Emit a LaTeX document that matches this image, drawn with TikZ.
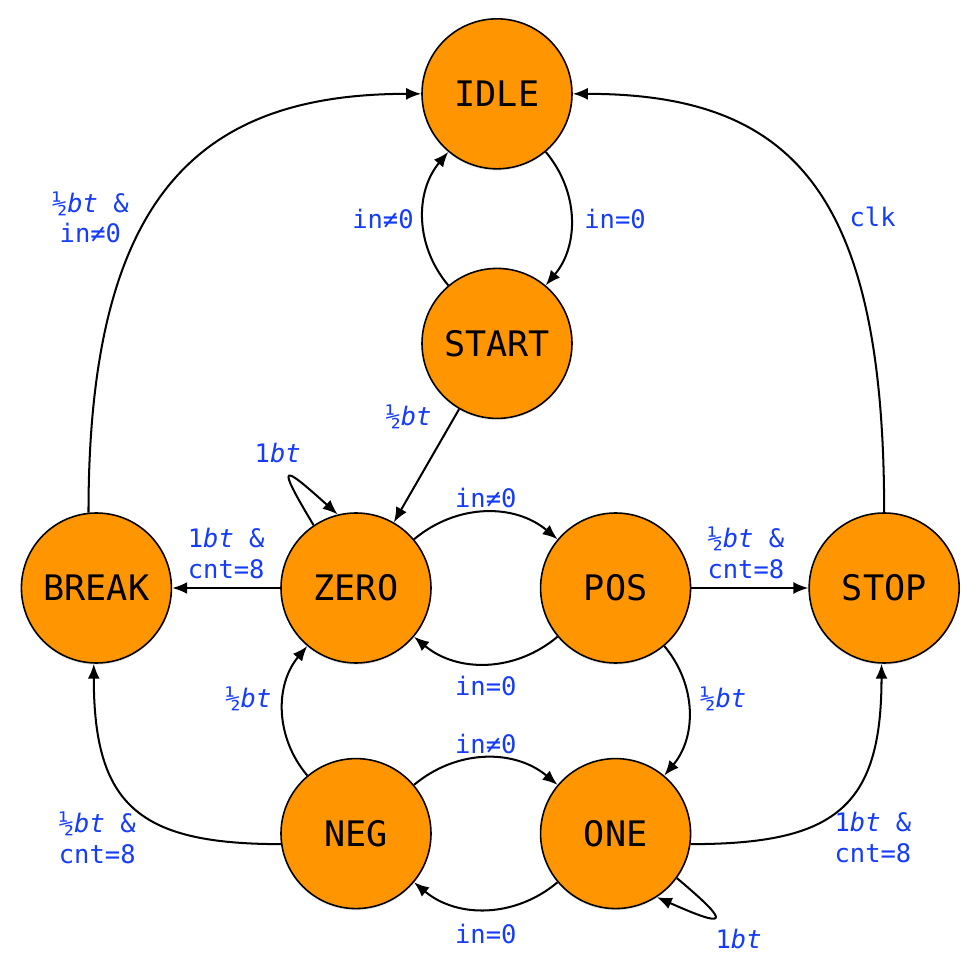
\documentclass[tikz,border=0pt]{standalone}
\usepackage{fontspec}
\setmainfont{DejaVu Sans Mono}
\usetikzlibrary{arrows.meta,positioning,shadows}
\definecolor{stateColor}{RGB}{255,149,0}
\definecolor{guardColor}{RGB}{20,60,250}
\tikzset{state/.style={circle, draw, fill=stateColor, line width=0.9pt, minimum size=3cm, inner sep=0pt, font=\fontsize{20}{24}\selectfont, drop shadow={opacity=0.2, shadow xshift=0pt, shadow yshift=-1pt}}}
\tikzset{guard/.style={text=guardColor, align=center, inner sep=2pt, draw=none, font=\fontsize{14.5}{17.5}\selectfont}}

\begin{document}
\begin{tikzpicture}[node distance=1.88cm and 2.16cm]
	\useasboundingbox (-7.12,-7.84) rectangle (12.48,11.76);
	% Nodes
	\node (zero) [state] {ZERO};
	\node (pos) [state, right=of zero] {POS};
	\node (break) [state, left=of zero] {BREAK};
	\node (stop) [state, right=2.34cm of pos] {STOP};
	\node (neg) [state, below=of zero] {NEG};
	\node (one) [state, below=of pos] {ONE};
	\node (start) [state, above=1.86cm of zero, xshift=2.82cm] {START};
	\node (idle) [state, above=1.96cm of start] {IDLE};

	% Connectors
	\begin{scope}[-{Latex[length=3mm, width=2.4mm]}, line width=1.15pt]

	\draw (break.96) to[out=90, in=180, out distance=6.4cm, in distance=4.4cm] node[pos=0.42, anchor=east, xshift=-2.9mm, guard]
		{½\textit{bt} \&\\in≠0} (idle.west);
	\draw (stop.north) to[out=90, in=0, out distance=6.4cm, in distance=4.4cm] node[pos=0.42, anchor=west, xshift=2.4mm, guard] {clk} (idle.east);

	\draw (idle) to[bend left=40] node[anchor=west, xshift=1.8mm, guard] {in=0} (start);
	\draw (start) to[bend left=40] node[anchor=east, xshift=-1mm, guard] {in≠0} (idle);

	\draw (start) -- node[pos=0.07, anchor=east, xshift=-3.7mm, guard] {½\textit{bt}} (zero);
	\draw (zero.124) .. controls +(121:1.5) and +(138:1.5) .. node[anchor=south, xshift=-2.5mm, yshift=2mm, guard] {1\textit{bt}} (zero.104);

	\draw (zero) to[bend left=40] node[anchor=south, guard] {in≠0} (pos);
	\draw (pos) to[bend left=40] node[anchor=north, yshift=-1.5mm, guard] {in=0} (zero);

	\draw (zero) -- node[anchor=south, yshift=1mm, guard] {1\textit{bt} \&\\cnt=8} (break);
	\draw (pos) -- node[anchor=south, yshift=1mm, xshift=-0.8mm, guard] {½\textit{bt} \&\\cnt=8} (stop);

	\draw (pos) to[bend left=40] node[anchor=west, xshift=1.4mm, yshift=2.4mm, guard] {½\textit{bt}} (one);
	\draw (neg) to[bend left=40] node[anchor=east, xshift=-1.4mm, yshift=2.4mm, guard] {½\textit{bt}} (zero);

	\draw (neg) to[bend left=40] node[anchor=south, guard] {in≠0} (one);
	\draw (one) to[bend left=40] node[anchor=north, yshift=-2mm, guard] {in=0} (neg);
	\draw (one.324) .. controls +(-40:1.5) and +(-24:1.5) .. node[anchor=north west, yshift=-1.4mm, xshift=-0.6mm, guard] {1\textit{bt}} (one.303);

	\draw (neg.188) to[out=180, in=-90, looseness=1.4] node[anchor=north east, xshift=1.2mm, guard] {½\textit{bt} \&\\cnt=8} (break.268);
	\draw (one.352) to[out=0, in=-90, looseness=1.4] node[anchor=north west, xshift=-2mm, guard] {1\textit{bt} \&\\cnt=8} (stop.268);

	\end{scope}
\end{tikzpicture}
\end{document}
